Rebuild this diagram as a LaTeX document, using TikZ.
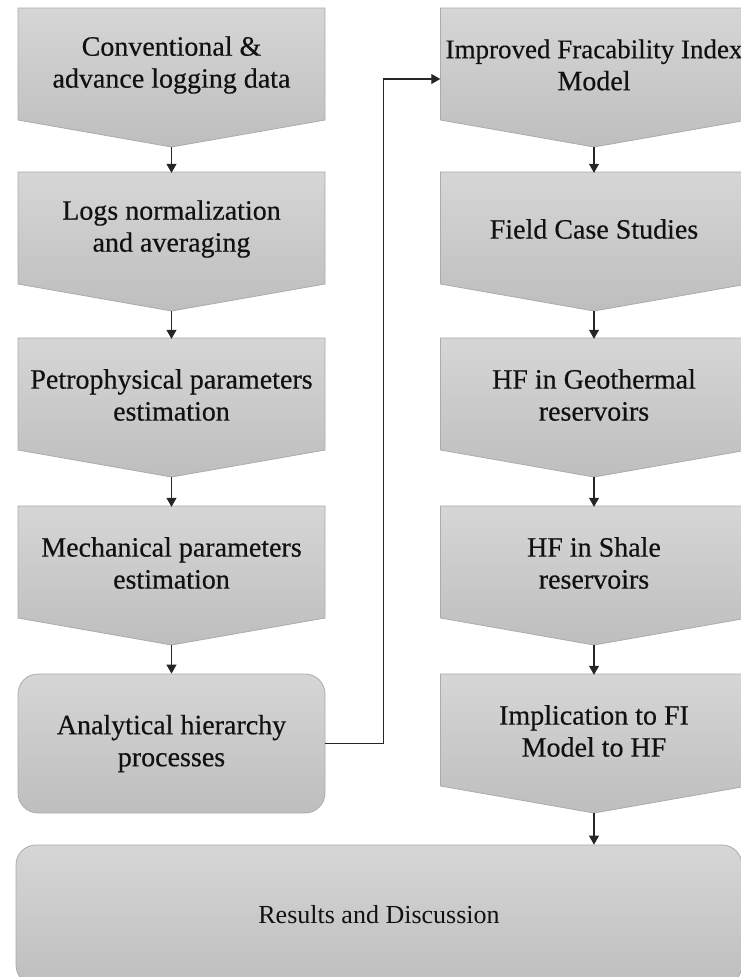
\documentclass[tikz,border=0pt]{standalone}
\usepackage{fontspec}
\setmainfont{Liberation Serif}
\usetikzlibrary{arrows.meta,calc}
\definecolor{btop}{HTML}{D6D6D6}
\definecolor{bbot}{HTML}{BEBEBE}
\definecolor{bline}{HTML}{ABABAB}
\definecolor{txt}{HTML}{111111}
\newcommand\chev[4]{%
  \shadedraw[top color=btop,bottom color=bbot,draw=bline,line width=0.8pt]
    (#2-153.5,#3) -- (#2+153.5,#3) -- (#2+153.5,#3+112) -- (#2,#3+139) -- (#2-153.5,#3+112) -- cycle;
  \node[lbl,minimum width=307pt,minimum height=112pt] (#1) at (#2,#3+57) {#4};
  \coordinate (#1-tip) at (#2,#3+139);
}
\begin{document}
\begin{tikzpicture}[x=1pt,y=-1pt,
  lbl/.style={align=center,inner sep=0pt,text=txt,font=\fontsize{28}{32}\selectfont\addfontfeatures{FakeBold=0.4}},
  rbox/.style={lbl,rounded corners=20pt,top color=btop,bottom color=bbot,draw=bline,line width=0.8pt},
  arr/.style={draw=black!85,line width=1.1pt,-{Triangle[length=9pt,width=10pt]}}]
\useasboundingbox (0,0) rectangle (741,977);
\clip (0,0) rectangle (741,977);
% left column
\chev{c1}{171.5}{8}{Conventional \&\\advance logging data}
\chev{c2}{171.5}{172}{Logs normalization\\and averaging}
\chev{c3}{171.5}{338}{Petrophysical parameters\\estimation}
\chev{c4}{171.5}{506}{Mechanical parameters\\estimation}
\node[rbox,minimum width=307pt,minimum height=139pt] (ahp) at (171.5,743.5) {Analytical hierarchy\\processes};
% right column
\chev{fi}{594}{8}{\fontsize{27}{32}\selectfont Improved Fracability Index\\Model}
\chev{fc}{594}{172}{Field Case Studies}
\chev{geo}{594}{338}{HF in Geothermal\\reservoirs}
\chev{sh}{594}{506}{HF in Shale\\reservoirs}
\chev{imp}{594}{674}{Implication to FI\\Model to HF}
\node[rbox,minimum width=726pt,minimum height=140pt,font=\fontsize{26}{30}\selectfont] (res) at (379,915) {Results and Discussion};
% connectors
\draw[arr] (c1-tip) -- (c2.north);
\draw[arr] (c2-tip) -- (c3.north);
\draw[arr] (c3-tip) -- (c4.north);
\draw[arr] (c4-tip) -- (ahp.north);
\draw[arr] (fi-tip) -- (fc.north);
\draw[arr] (fc-tip) -- (geo.north);
\draw[arr] (geo-tip) -- (sh.north);
\draw[arr] (sh-tip) -- (imp.north);
\draw[arr] (imp-tip) -- (imp-tip |- res.north);
\draw[arr] (ahp.east) -- ++(58,0) |- ([yshift=-14pt]fi.west);
\end{tikzpicture}
\end{document}
